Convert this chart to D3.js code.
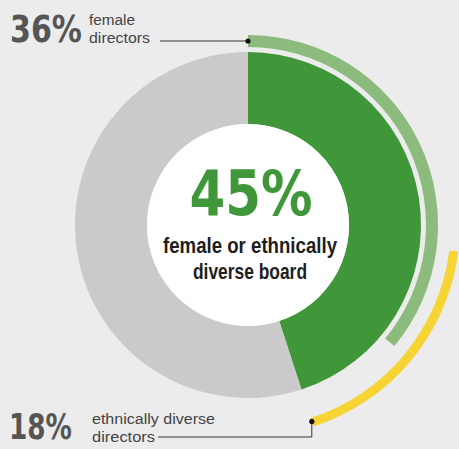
<!DOCTYPE html>
<html>
<head>
<meta charset="utf-8">
<script src="https://cdn.jsdelivr.net/npm/d3@7"></script>
<style>
  html, body { margin: 0; padding: 0; background: #ececec; }
  svg { display: block; }
</style>
</head>
<body>
<div id="chart"></div>
<script>
// Board composition shares (percent of companies)
const boardCategories = ["female or ethnically diverse board", "other boards"];
const boardValues = [45, 55];
const boardColors = ["#3f9739", "#cacaca"];

// Sub-shares shown as outer rings
const ringLabels = [["female", "directors"], ["ethnically diverse", "directors"]];
const ringValues = [36, 18];
const ringColors = ["#8cbb7e", "#f6d433"];

const headline = "45%";
const headlineLines = ["female or ethnically", "diverse board"];

const W = 459, H = 449;
const cx = 248, cy = 225;
const rInner = 101, rOuter = 173;

const svg = d3.select("#chart").append("svg")
  .attr("width", W).attr("height", H);

svg.append("rect").attr("width", W).attr("height", H).attr("fill", "#ececec");

const g = svg.append("g").attr("transform", `translate(${cx},${cy})`);

// percent -> angle
const angle = d3.scaleLinear().domain([0, 100]).range([0, 2 * Math.PI]);

// main donut
const pie = d3.pie().sort(null).value(d => d)
  .startAngle(0).endAngle(2 * Math.PI);
const arcMain = d3.arc().innerRadius(rInner).outerRadius(rOuter);

g.selectAll("path.main")
  .data(pie(boardValues))
  .join("path")
  .attr("class", "main")
  .attr("d", arcMain)
  .attr("fill", (d, i) => boardColors[i]);

g.append("circle").attr("r", rInner).attr("fill", "#ffffff");

// outer rings: female directors start at the top, ethnically diverse ends with the main share
const total = boardValues[0];
const ringSpans = [
  { start: 0, end: ringValues[0], r0: 178, r1: 190 },
  { start: total - ringValues[1], end: total, r0: 203, r1: 212 }
];

ringSpans.forEach((s, i) => {
  g.append("path")
    .attr("d", d3.arc()
      .innerRadius(s.r0).outerRadius(s.r1)
      .startAngle(angle(s.start)).endAngle(angle(s.end))())
    .attr("fill", ringColors[i]);
});

// leader line anchors
function ringPoint(pct, r) {
  const a = angle(pct);
  return [cx + r * Math.sin(a), cy - r * Math.cos(a)];
}

const p1 = ringPoint(ringSpans[0].start, (ringSpans[0].r0 + ringSpans[0].r1) / 2);
const p2 = ringPoint(ringSpans[1].end, (ringSpans[1].r0 + ringSpans[1].r1) / 2 - 1);

svg.append("path")
  .attr("d", `M160,${p1[1]}H${p1[0]}`)
  .attr("stroke", "#333").attr("stroke-width", 1).attr("fill", "none");
svg.append("circle").attr("cx", p1[0]).attr("cy", p1[1]).attr("r", 2.6).attr("fill", "#111");

svg.append("path")
  .attr("d", `M158,437H${p2[0]}V${p2[1]}`)
  .attr("stroke", "#333").attr("stroke-width", 1).attr("fill", "none");
svg.append("circle").attr("cx", p2[0]).attr("cy", p2[1]).attr("r", 2.6).attr("fill", "#111");

// side labels
const bigFont = "'DejaVu Sans Condensed', 'DejaVu Sans', sans-serif";
const smallFont = "'Liberation Sans Narrow', 'Liberation Sans', sans-serif";

const sideLabels = [
  { value: ringValues[0], x: 10, y: 42, size: 37, len: 72, lines: ringLabels[0], lx: 89, ly: [25, 43], lens: [46, 61] },
  { value: ringValues[1], x: 9, y: 439, size: 35, len: 63, lines: ringLabels[1], lx: 92, ly: [424, 442], lens: [123, 63] }
];

sideLabels.forEach(s => {
  svg.append("text")
    .attr("x", s.x).attr("y", s.y)
    .attr("font-family", bigFont).attr("font-weight", "bold")
    .attr("font-size", s.size).attr("fill", "#555")
    .attr("textLength", s.len).attr("lengthAdjust", "spacingAndGlyphs")
    .text(s.value + "%");
  s.lines.forEach((t, j) => {
    svg.append("text")
      .attr("x", s.lx).attr("y", s.ly[j])
      .attr("font-family", smallFont)
      .attr("font-size", 15.5).attr("fill", "#444")
      .attr("textLength", s.lens[j]).attr("lengthAdjust", "spacingAndGlyphs")
      .text(t);
  });
});

// centre headline
g.append("text")
  .attr("x", 3).attr("y", 215 - cy)
  .attr("text-anchor", "middle")
  .attr("font-family", bigFont).attr("font-weight", "bold")
  .attr("font-size", 62).attr("fill", "#3f9739")
  .attr("textLength", 123).attr("lengthAdjust", "spacingAndGlyphs")
  .text(headline);

const subLens = [174, 114];
headlineLines.forEach((t, j) => {
  g.append("text")
    .attr("x", 2).attr("y", 253 - cy + j * 26)
    .attr("text-anchor", "middle")
    .attr("font-family", smallFont).attr("font-weight", "bold")
    .attr("font-size", 22).attr("fill", "#1e1e1e")
    .attr("textLength", subLens[j]).attr("lengthAdjust", "spacingAndGlyphs")
    .text(t);
});
</script>
</body>
</html>
